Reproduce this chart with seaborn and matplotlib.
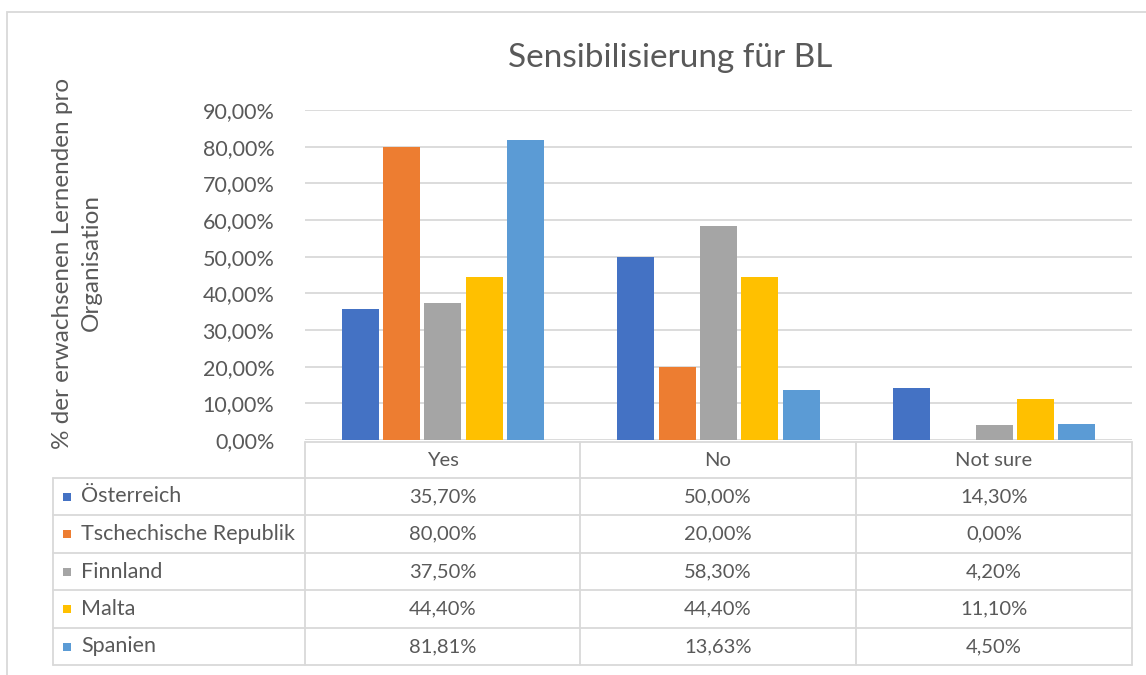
import matplotlib
matplotlib.use("Agg")
import matplotlib.pyplot as plt
import seaborn as sns
import pandas as pd
from matplotlib.lines import Line2D
from matplotlib.patches import Rectangle

answers = ["Yes", "No", "Not sure"]
countries = ["Österreich", "Tschechische Republik", "Finnland", "Malta", "Spanien"]
oesterreich = [35.70, 50.00, 14.30]
tschechien = [80.00, 20.00, 0.00]
finnland = [37.50, 58.30, 4.20]
malta = [44.40, 44.40, 11.10]
spanien = [81.81, 13.63, 4.50]
colors = ["#4472C4", "#ED7D31", "#A5A5A5", "#FFC000", "#5B9BD5"]
title = "Sensibilisierung für BL"
ylabel = "% der erwachsenen Lernenden pro\nOrganisation"
yticks = [0, 10, 20, 30, 40, 50, 60, 70, 80, 90]

series = [oesterreich, tschechien, finnland, malta, spanien]
rows = []
for c, vals in zip(countries, series):
    for a, v in zip(answers, vals):
        rows.append({"answer": a, "country": c, "value": v})
df = pd.DataFrame(rows)

def fmt(v):
    return f"{v:.2f}".replace(".", ",") + "%"

sns.set_style("white")
plt.rcParams["font.family"] = ["Lato", "DejaVu Sans"]
TXT = "#595959"
GRID = "#D9D9D9"

W, H = 1146, 675
fig = plt.figure(figsize=(W / 100, H / 100), dpi=100)

def fx(px):
    return px / W

def fy(py):
    return 1 - py / H

ax_l, ax_r, ax_t, ax_b = 305, 1132, 110, 440
ax = fig.add_axes([fx(ax_l), fy(ax_b), fx(ax_r - ax_l), (ax_b - ax_t) / H])
sns.barplot(data=df, x="answer", y="value", hue="country", order=answers,
            hue_order=countries, palette=colors, width=0.75, gap=0.1,
            legend=False, ax=ax, saturation=1, edgecolor="none", errorbar=None)
ax.set_xlim(-0.5, 2.5)
ax.set_ylim(0, 90)
ax.set_yticks(yticks)
ax.set_yticklabels([fmt(t) for t in yticks], fontsize=15.5, color=TXT)
ax.set_xticks([])
ax.set_xlabel("")
ax.set_ylabel("")
ax.tick_params(axis="y", length=0, pad=22)
ax.grid(axis="y", color=GRID, linewidth=1.3)
ax.set_axisbelow(True)
for s in ax.spines.values():
    s.set_visible(False)

# y label
fig.text(fx(77), fy(263), ylabel, rotation=90, ha="center", va="center",
         fontsize=17.5, color=TXT, linespacing=1.45)

# title
fig.text(fx(670), fy(58), title, ha="center", va="center", fontsize=24, color=TXT)

# chart border
fig.add_artist(Rectangle((fx(7), fy(690)), fx(1150), (690 - 12) / H,
                         transform=fig.transFigure, fill=False,
                         edgecolor="#D9D9D9", linewidth=1.3))

# data table
col_edges = [305, 580, 856, 1132]
row_edges = [442, 478, 515, 553, 590, 628, 665]
lw = 1.3
fig.add_artist(Line2D([fx(305), fx(1132)], [fy(442), fy(442)], color=GRID, lw=lw))
for y in row_edges[1:]:
    fig.add_artist(Line2D([fx(53), fx(1132)], [fy(y), fy(y)], color=GRID, lw=lw))
for x in col_edges:
    fig.add_artist(Line2D([fx(x), fx(x)], [fy(442), fy(665)], color=GRID, lw=lw))
fig.add_artist(Line2D([fx(53), fx(53)], [fy(478), fy(665)], color=GRID, lw=lw))

for j, a in enumerate(answers):
    cx = (col_edges[j] + col_edges[j + 1]) / 2
    fig.text(fx(cx), fy((row_edges[0] + row_edges[1]) / 2), a, ha="center",
             va="center", fontsize=14.5, color=TXT)
for i, (c, vals, col) in enumerate(zip(countries, series, colors)):
    cy = (row_edges[i + 1] + row_edges[i + 2]) / 2
    fig.add_artist(Rectangle((fx(63), fy(cy + 4)), fx(8), 8 / H,
                             transform=fig.transFigure, facecolor=col,
                             edgecolor="none"))
    fig.text(fx(81), fy(cy), c, ha="left", va="center", fontsize=15.5, color=TXT)
    for j, v in enumerate(vals):
        cx = (col_edges[j] + col_edges[j + 1]) / 2
        fig.text(fx(cx), fy(cy), fmt(v), ha="center", va="center",
                 fontsize=14.5, color=TXT)

fig.savefig("out.png", dpi=100, facecolor="white")
